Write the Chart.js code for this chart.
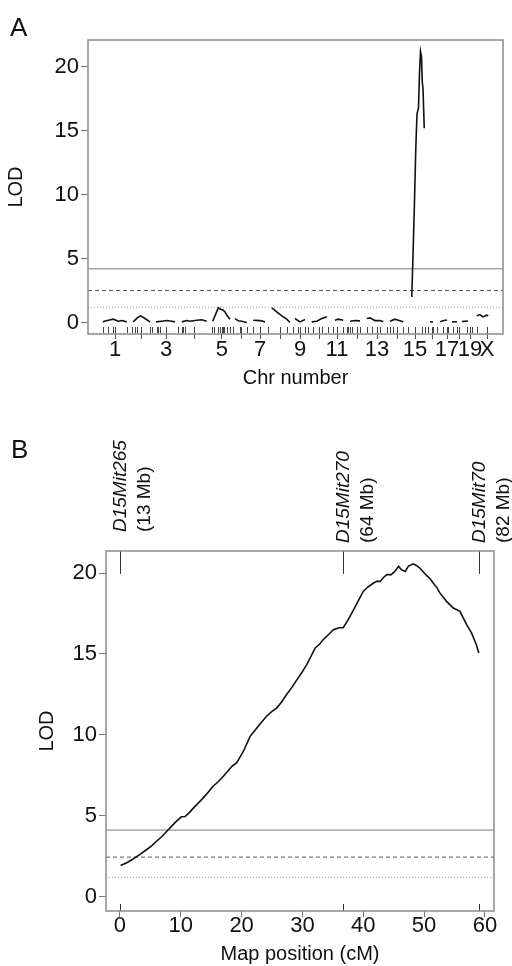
<!DOCTYPE html>
<html><head><meta charset="utf-8">
<script src="https://cdn.jsdelivr.net/npm/chart.js@4.4.1/dist/chart.umd.min.js"></script>
<style>
html,body{margin:0;padding:0;background:#fff;}
#wrap{position:relative;width:512px;height:966px;overflow:hidden;background:#fff}
canvas{position:absolute;left:0}
.lbl{position:absolute;font-family:"Liberation Sans",Arial,sans-serif;font-size:26px;line-height:26px;color:#111}
</style></head><body>
<div id="wrap">
<canvas id="cA" width="512" height="390" style="top:0px"></canvas>
<canvas id="cB" width="512" height="576" style="top:390px"></canvas>
<div class="lbl" style="left:10px;top:14px">A</div>
<div class="lbl" style="left:11px;top:436px">B</div>
</div>
<script>
// ---------------- Panel A: genome scan ----------------
const chrNames = ['1','2','3','4','5','6','7','8','9','10','11','12','13','14','15','16','17','18','19','X'];
// chromosome label positions on the cumulative genome axis (cM)
const chrCenters = [108,212,312,424,535,612,688,768,848,924,996,1076,1156,1236,1308,1376,1436,1484,1528,1596];
// per-chromosome scan positions (cumulative cM) and LOD
const chrPos = [
  [59,81,101,121,135,155],
  [181,197,211,228,248],
  [272,295,315,335,348],
  [375,395,408,435,455,475],
  [499,521,531,541,548,557,568],
  [588,601,615,635],
  [661,688,708],
  [735,755,775,795,808],
  [828,848,868],
  [895,915,935,955],
  [988,1001,1021],
  [1048,1068,1088],
  [1115,1128,1148,1168,1181],
  [1208,1228,1241,1261],
  [1295,1301,1306,1311,1316,1322,1326,1330,1334,1337,1340,1345],
  [1368,1380],
  [1408,1424,1436],
  [1456,1476],
  [1496,1520],
  [1555,1568,1579,1595,1601]
];
const chrLod = [
  [0.05,0.18,0.26,0.10,0.15,0.05],
  [0.05,0.36,0.52,0.31,0.05],
  [0.05,0.10,0.15,0.10,0.05],
  [0.05,0.15,0.10,0.18,0.21,0.10],
  [0.10,1.14,1.04,0.96,0.83,0.52,0.26],
  [0.31,0.13,0.10,0.00],
  [0.18,0.15,0.05],
  [1.14,0.83,0.52,0.26,0.00],
  [0.31,0.05,0.23],
  [0.05,0.10,0.31,0.44],
  [0.18,0.26,0.18],
  [0.10,0.15,0.13],
  [0.31,0.36,0.15,0.15,0.05],
  [0.10,0.26,0.18,0.05],
  [2.0,5.9,9.5,13.5,16.3,16.8,19.5,21.2,20.8,18.8,18.3,15.2],
  [0.05,0.05],
  [0.05,0.15,0.20],
  [0.05,0.05],
  [0.08,0.12],
  [0.52,0.62,0.44,0.57,0.52]
];
// genotyped marker positions (cumulative cM)
const markersA = [61,81,101,155,175,188,195,248,255,275,281,288,361,375,381,388,495,504,521,528,539,544,555,568,581,608,635,661,721,795,821,841,868,881,901,935,961,981,1021,1035,1041,1048,1055,1088,1115,1135,1168,1195,1208,1221,1261,1281,1335,1348,1361,1375,1381,1395,1421,1435,1441,1461,1475,1515,1535,1555,1595];
const thresholdsA = [4.2, 2.5, 1.2];
const yTicksA = [0,5,10,15,20];
const xRangeA = [0, 1660];
const yRangeA = [-0.9, 22.1];

// ---------------- Panel B: chromosome 15 ----------------
const mapPos = [0.1,1.2,2.2,3.3,4.4,5.2,6.0,6.9,7.7,8.5,9.3,10.1,10.7,11.4,12.1,12.9,13.7,14.5,15.3,16.2,17.0,17.7,18.4,19.2,20.3,21.4,22.5,23.3,24.1,25.0,25.8,26.6,27.4,28.3,29.1,29.9,30.7,31.4,32.1,32.8,33.4,34.3,35.1,36.0,36.7,37.5,38.4,39.2,40.0,40.8,41.7,42.3,42.8,43.4,43.9,44.6,45.2,45.8,46.3,46.9,47.4,48.2,48.8,49.3,50.4,51.0,51.5,52.1,52.6,53.7,54.8,55.9,57.0,57.8,58.6,59.0];
const mapLod = [1.93,2.12,2.35,2.62,2.92,3.15,3.43,3.72,4.05,4.36,4.67,4.94,4.96,5.20,5.49,5.80,6.11,6.45,6.83,7.12,7.44,7.75,8.06,8.28,8.99,9.91,10.43,10.80,11.15,11.45,11.67,12.05,12.49,12.95,13.41,13.85,14.34,14.85,15.37,15.60,15.88,16.20,16.50,16.62,16.62,17.10,17.73,18.30,18.86,19.15,19.38,19.50,19.48,19.75,19.90,19.90,20.10,20.41,20.20,20.10,20.41,20.57,20.45,20.31,19.85,19.65,19.38,19.10,18.77,18.25,17.84,17.63,16.81,16.30,15.57,15.06];
const markerNames = ['D15Mit265','D15Mit270','D15Mit70'];
const markerMb = ['(13 Mb)','(64 Mb)','(82 Mb)'];
const markerCM = [0, 36.7, 59.0];
const thresholdsB = [4.12, 2.45, 1.2];
const xTicksB = [0,10,20,30,40,50,60];
const yTicksB = [0,5,10,15,20];
const xRangeB = [-2.3, 61.5];
const yRangeB = [-0.88, 21.36];

// ---------------- styles ----------------
const FONT = '"Liberation Sans", Arial, sans-serif';
Chart.defaults.font.family = FONT;
Chart.defaults.color = '#111';
const TICK_SIZE = 22;
const thrStyles = [
  {color:'#7a7a7a', dash:[], width:1},
  {color:'#555', dash:[4,3], width:1},
  {color:'#999', dash:[1,2], width:1}
];
const BOX = '#8a8a8a';
const markerLabelGap = [19, 8, 8];

function thresholdSets(vals, xr){
  return vals.map((v,i)=>({
    data:[{x:xr[0],y:v},{x:xr[1],y:v}],
    borderColor:thrStyles[i].color, borderWidth:thrStyles[i].width,
    borderDash:thrStyles[i].dash, pointRadius:0
  }));
}
function line(ctx,x1,y1,x2,y2){ctx.beginPath();ctx.moveTo(x1,y1);ctx.lineTo(x2,y2);ctx.stroke();}

const commonY = (ticks, width, titlePad) => ({
  afterBuildTicks:s=>{s.ticks=ticks.map(v=>({value:v}));},
  afterFit:s=>{s.width=width;},
  grid:{drawOnChartArea:false,drawTicks:true,tickLength:7,color:'#777'},
  border:{display:false},
  ticks:{padding:2,font:{size:TICK_SIZE,lineHeight:1},color:'#111'},
  title:{display:true,text:'LOD',font:{size:20},color:'#111',padding:{top:titlePad,bottom:0}}
});

// ---------------- Chart A ----------------
const dsA = chrPos.map((p,i)=>({
  data:p.map((x,j)=>({x:x,y:chrLod[i][j]})),
  borderColor:'#111', borderWidth:1.6, pointRadius:0, tension:0
})).concat(thresholdSets(thresholdsA, xRangeA));

const plugA = {
  id:'decorA',
  afterDraw(chart){
    const ctx=chart.ctx, ca=chart.chartArea, xs=chart.scales.x;
    ctx.save();
    ctx.strokeStyle='#444'; ctx.lineWidth=1;
    markersA.forEach(u=>{const x=Math.round(xs.getPixelForValue(u))+0.5; line(ctx,x,ca.bottom-7,x,ca.bottom-1);});
    chrCenters.forEach(u=>{const x=Math.round(xs.getPixelForValue(u))+0.5; line(ctx,x,ca.bottom-7,x,ca.bottom);});
    ctx.strokeStyle=BOX; ctx.lineWidth=1.5;
    ctx.strokeRect(ca.left,ca.top,ca.right-ca.left,ca.bottom-ca.top);
    ctx.restore();
  }
};

new Chart(document.getElementById('cA'),{
  type:'line',
  data:{datasets:dsA},
  options:{
    responsive:false, animation:false,
    layout:{padding:{top:40,right:9,left:0,bottom:0}},
    plugins:{legend:{display:false},tooltip:{enabled:false}},
    scales:{
      x:{type:'linear',min:xRangeA[0],max:xRangeA[1],
        afterBuildTicks:s=>{s.ticks=chrCenters.map(v=>({value:v}));},
        afterFit:s=>{s.height=56;},
        grid:{drawOnChartArea:false,drawTicks:true,tickLength:5,color:'#555'},
        border:{display:false},
        ticks:{autoSkip:false,maxRotation:0,minRotation:0,padding:0,font:{size:TICK_SIZE,lineHeight:1},color:'#111',
          callback:(v,i)=>(i%2===0||i===chrNames.length-1)?chrNames[i]:''},
        title:{display:true,text:'Chr number',font:{size:20},color:'#111',padding:{top:0,bottom:0}}
      },
      y:Object.assign({min:yRangeA[0],max:yRangeA[1]}, commonY(yTicksA, 88, 4))
    }
  },
  plugins:[plugA]
});

// ---------------- Chart B ----------------
const dsB = [{
  data:mapPos.map((x,j)=>({x:x,y:mapLod[j]})),
  borderColor:'#111', borderWidth:1.6, pointRadius:0, tension:0
}].concat(thresholdSets(thresholdsB, xRangeB));

const plugB = {
  id:'decorB',
  afterDraw(chart){
    const ctx=chart.ctx, ca=chart.chartArea, xs=chart.scales.x;
    ctx.save();
    markerCM.forEach((cm,i)=>{
      const x=Math.round(xs.getPixelForValue(cm))+0.5;
      ctx.strokeStyle='#333'; ctx.lineWidth=1;
      line(ctx,x,ca.top,x,ca.top+23);
      line(ctx,x,ca.bottom-7,x,ca.bottom);
      ctx.save();
      ctx.translate(x, ca.top-markerLabelGap[i]);
      ctx.rotate(-Math.PI/2);
      ctx.fillStyle='#111'; ctx.textAlign='left'; ctx.textBaseline='middle';
      ctx.font='italic 19px '+FONT; ctx.fillText(markerNames[i],0,0);
      ctx.font='19px '+FONT; ctx.fillText(markerMb[i],0,24);
      ctx.restore();
    });
    ctx.strokeStyle=BOX; ctx.lineWidth=1.5;
    ctx.strokeRect(ca.left,ca.top,ca.right-ca.left,ca.bottom-ca.top);
    ctx.restore();
  }
};

new Chart(document.getElementById('cB'),{
  type:'line',
  data:{datasets:dsB},
  options:{
    responsive:false, animation:false,
    layout:{padding:{top:161,right:18,left:0,bottom:0}},
    plugins:{legend:{display:false},tooltip:{enabled:false}},
    scales:{
      x:{type:'linear',min:xRangeB[0],max:xRangeB[1],
        afterBuildTicks:s=>{s.ticks=xTicksB.map(v=>({value:v}));},
        afterFit:s=>{s.height=55;},
        grid:{drawOnChartArea:false,drawTicks:true,tickLength:6,color:'#777'},
        border:{display:false},
        ticks:{autoSkip:false,maxRotation:0,minRotation:0,padding:-2,font:{size:TICK_SIZE,lineHeight:1},color:'#111'},
        title:{display:true,text:'Map position (cM)',font:{size:20},color:'#111',padding:{top:0,bottom:0}}
      },
      y:Object.assign({min:yRangeB[0],max:yRangeB[1]}, commonY(yTicksB, 106, 35))
    }
  },
  plugins:[plugB]
});
</script>
</body></html>
